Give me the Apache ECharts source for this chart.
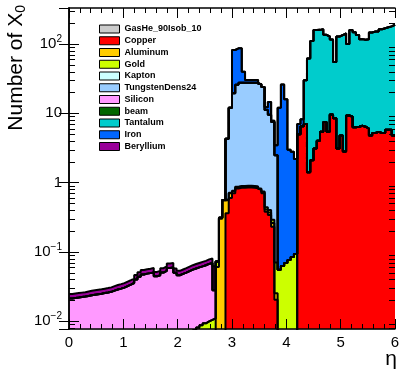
<!DOCTYPE html>
<html>
<head>
<meta charset="utf-8">
<script src="https://cdn.jsdelivr.net/npm/echarts@6/dist/echarts.min.js"></script>
<style>
  html, body { margin: 0; padding: 0; background: #fff; }
  #chart { width: 402px; height: 369px; }
</style>
</head>
<body>
<div id="chart"></div>
<script>
// histogram binning in eta
const etaMin = 0;
const etaMax = 6;
const nBins = 100;
const yMin = 0.0077;
const yMax = 331;

// number of X0 per bin, per material (bins before *Start are empty)
const gasHe = [
  0.0002, 0.0002, 0.0002, 0.0002, 0.0002, 0.0002, 0.0002, 0.0002, 0.0002, 0.0002,
  0.0002, 0.0002, 0.0002, 0.0002, 0.0002, 0.0002, 0.0002, 0.0002, 0.0002, 0.0002,
  0.0002, 0.0002, 0.0002, 0.0002, 0.0002, 0.0002, 0.0002, 0.0002, 0.0002, 0.0002,
  0.0002, 0.0002, 0.0002, 0.0002, 0.0002, 0.0002, 0.0002, 0.0002, 0.0002, 0.0002,
  0.0002, 0.0002, 0.0002, 0.0002, 0.0002, 0.0003, 0.0003, 0.0003, 0.0003, 0.0003,
  0.0003, 0.0003, 0.0003, 0.0003, 0.0003, 0.0003, 0.0003, 0.0003, 0.0003, 0.0003,
  0.0003, 0.0003, 0.0003, 0.0003, 0.0003, 0.0003, 0.0003, 0.0003, 0.0003, 0.0003,
  0.0003, 0.0003, 0.0003, 0.0003, 0.0003, 0.0003, 0.0003, 0.0003, 0.0003, 0.0003,
  0.0003, 0.0003, 0.0003, 0.0003, 0.0003, 0.0003, 0.0003, 0.0003, 0.0003, 0.0003,
  0.0003, 0.0003, 0.0003, 0.0003, 0.0003, 0.0003, 0.0003, 0.0003, 0.0003, 0.0003
];

const copperStart = 48;
const copper = [
  0.36, 0.6,
  0.70, 0.82, 0.84, 0.84, 0.85, 0.85, 0.84, 0.83, 0.78, 0.70,
  0.38, 0.34, 0.23, 0.02, 0, 0, 0, 0, 0, 0,
  5.0, 6.5, 7.0, 1.41, 2.1, 3.1, 4.0, 5.4, 7.5, 5.4,
  9.6, 8.5, 3.1, 4.8, 2.8, 9.3, 8.9, 6.3, 6.4, 6.6,
  6.4, 6.0, 4.8, 5.2, 5.4, 5.2, 5.2, 5.8, 5.8, 4.8
];

const aluminumStart = 45;
const aluminum = [
  0.06, 0.3, 0.55, 0.2, 0.1,
  0.05, 0.04, 0.04, 0.04, 0.04, 0.04, 0.04, 0.04, 0.03, 0.03,
  0.03, 0.03, 0.03, 0.005
];

const goldStart = 38;
const gold = [
  0.0072, 0.0079,
  0.0085, 0.0091, 0.0097, 0.0102, 0.0108, 0.012, 0.01, 0.01, 0.01, 0.01,
  0.01, 0.01, 0.01, 0.01, 0.01, 0.01, 0.01, 0.01, 0.01, 0.01,
  0.03, 0.03, 0.03, 0.045, 0.055, 0.062, 0.069, 0.076, 0.084, 0.093
];

const tungstenStart = 48;
const tungsten = [
  3.73, 11.3,
  18.7, 24.9, 26.7, 26.7, 26.7, 26.7, 26.7, 26.7, 25.2, 23.3,
  10.7, 9.1, 7.2, 2.4
];

const siliconStart = 0;
const silicon = [
  0.0210, 0.0214, 0.0217, 0.0221, 0.0224, 0.0229, 0.0234, 0.0239, 0.0243, 0.0247,
  0.0252, 0.0257, 0.0263, 0.0274, 0.0284, 0.0293, 0.0303, 0.0319, 0.0335, 0.0353,
  0.0397, 0.0435, 0.0470, 0.0483, 0.0491, 0.0504, 0.0441, 0.0457, 0.0500, 0.0530,
  0.0584, 0.0595, 0.0496, 0.0457, 0.0478, 0.0500, 0.0526, 0.0552, 0.0501, 0.0516,
  0.0531, 0.0547, 0.0572, 0.0588, 0.017
];

const tantalumStart = 72;
const tantalum = [
  23, 60.6, 108, 156, 156, 158, 128, 123,
  107, 46.5, 125, 130, 140, 91, 151, 141, 129, 111,
  109, 111, 142, 146, 146, 158, 164, 169, 174, 185
];

const ironStart = 50;
const iron = [
  62.5, 60.8, 59, 12.2, 2.6, 2.6, 2.6, 2.6, 0.5, 0,
  1.1, 5.0, 0.3, 1.0, 12, 25.9, 15.9, 2.9, 2.7, 2.1,
  2.0, 1.7
];

const berylliumStart = 0;
const beryllium = [
  0.0034, 0.0034, 0.0035, 0.0035, 0.0036, 0.0037, 0.0038, 0.0038, 0.0039, 0.0039,
  0.0040, 0.0041, 0.0042, 0.0044, 0.0046, 0.0047, 0.0049, 0.0051, 0.0054, 0.0057,
  0.0063, 0.0070, 0.0075, 0.0077, 0.0079, 0.0081, 0.0071, 0.0073, 0.0080, 0.0085,
  0.0094, 0.0095, 0.0079, 0.0073, 0.0077, 0.0080, 0.0084, 0.0088, 0.0092, 0.0095,
  0.0099, 0.0102, 0.0107, 0.0110, 0.034
];

const fontFamily = 'Liberation Sans, Arial, sans-serif';

// stack order, bottom first (same as legend order)
const layers = [
  { name: 'GasHe_90Isob_10', start: 0, values: gasHe, color: '#cccccc' },
  { name: 'Copper', start: copperStart, values: copper, color: '#ff0000' },
  { name: 'Aluminum', start: aluminumStart, values: aluminum, color: '#ffcc00' },
  { name: 'Gold', start: goldStart, values: gold, color: '#ccff00' },
  { name: 'Kapton', start: 0, values: null, color: '#ccffff' },
  { name: 'TungstenDens24', start: tungstenStart, values: tungsten, color: '#99ccff' },
  { name: 'Silicon', start: siliconStart, values: silicon, color: '#ff99ff' },
  { name: 'beam', start: 0, values: null, color: '#006600' },
  { name: 'Tantalum', start: tantalumStart, values: tantalum, color: '#00cccc' },
  { name: 'Iron', start: ironStart, values: iron, color: '#0066ff' },
  { name: 'Beryllium', start: berylliumStart, values: beryllium, color: '#990099' }
];

const binWidth = (etaMax - etaMin) / nBins;

function expand(start, values) {
  const out = [];
  for (let i = 0; i < nBins; i++) {
    const k = i - start;
    out.push(k >= 0 && k < values.length ? values[k] : 0);
  }
  return out;
}

// stack like THStack: each layer is drawn from the axis up to its cumulative sum
let running = new Array(nBins).fill(0);
const tops = layers.map((l) => {
  if (!l.values) return null;
  const b = expand(l.start, l.values);
  running = running.map((r, i) => r + b[i]);
  return running.slice();
});

function toSteps(values) {
  const pts = values.map((v, i) => [etaMin + i * binWidth, v]);
  pts.push([etaMax, values[nBins - 1]]);
  return pts;
}

const series = [];
// top of the stack first, so lower layers are painted over it
for (let idx = layers.length - 1; idx >= 0; idx--) {
  const l = layers[idx];
  if (!tops[idx]) {
    series.push({ name: l.name, type: 'line', data: [], color: l.color, symbol: 'none' });
    continue;
  }
  series.push({
    name: l.name,
    type: 'line',
    step: 'end',
    symbol: 'none',
    data: toSteps(tops[idx]),
    color: l.color,
    lineStyle: { color: '#000', width: 2 },
    areaStyle: { color: l.color, opacity: 1, origin: 'start' },
    emphasis: { disabled: true },
    clip: true
  });
}

const axisLine = { show: true, lineStyle: { color: '#000', width: 1.5 } };

function xAxis(position, showLabel) {
  return {
    type: 'value',
    position: position,
    min: etaMin,
    max: etaMax,
    interval: 1,
    z: 50,
    axisLine: axisLine,
    axisTick: { show: true, inside: true, length: 10, lineStyle: { color: '#000', width: 1 } },
    minorTick: { show: true, splitNumber: 5, length: 5, lineStyle: { color: '#000', width: 1 } },
    axisLabel: { show: showLabel, color: '#000', fontSize: 15, fontFamily: fontFamily, margin: 6 },
    splitLine: { show: false }
  };
}

function yAxis(position, showLabel) {
  return {
    type: 'log',
    logBase: 10,
    position: position,
    min: yMin,
    max: yMax,
    z: 50,
    axisLine: axisLine,
    axisTick: { show: true, inside: true, length: 10, lineStyle: { color: '#000', width: 1 } },
    splitLine: { show: false },
    axisLabel: {
      show: showLabel,
      showMinLabel: false,
      showMaxLabel: false,
      color: '#000',
      fontSize: 15,
      fontFamily: fontFamily,
      margin: 7,
      formatter: (v) => {
        const lg = Math.log10(v);
        const p = Math.round(lg);
        if (Math.abs(lg - p) > 1e-6) return '';
        if (p === 0) return '1';
        if (p === 1) return '10';
        return '{b|10}{p|' + (p < 0 ? '\u2212' : '') + Math.abs(p) + '}';
      },
      rich: {
        b: { fontSize: 15, fontFamily: fontFamily, color: '#000', lineHeight: 20 },
        p: { fontSize: 10, fontFamily: fontFamily, color: '#000', lineHeight: 10, verticalAlign: 'top' }
      }
    }
  };
}

const chart = echarts.init(document.getElementById('chart'), null, { renderer: 'canvas' });

chart.setOption({
  animation: false,
  backgroundColor: '#fff',
  grid: { left: 69, right: 7, top: 8, bottom: 40, containLabel: false, outerBoundsMode: 'none' },
  legend: {
    orient: 'vertical',
    left: 99,
    top: 24,
    z: 100,
    padding: 0,
    icon: 'rect',
    itemWidth: 20,
    itemHeight: 8,
    itemGap: 1.75,
    selectedMode: false,
    data: layers.map((l) => ({
      name: l.name,
      itemStyle: { color: l.color, borderColor: '#000', borderWidth: 1 }
    })),
    textStyle: { fontSize: 9, fontWeight: 'bold', fontFamily: fontFamily, color: '#000', lineHeight: 10 }
  },
  xAxis: [xAxis('bottom', true), xAxis('top', false)],
  yAxis: [yAxis('left', true), yAxis('right', false)],
  series: series
});

// minor log ticks 2..9 in each decade, placed through the y axis scale
const minorTickEls = [];
const xl = chart.convertToPixel({ xAxisIndex: 0 }, etaMin);
const xr = chart.convertToPixel({ xAxisIndex: 0 }, etaMax);
for (let p = -3; p <= 2; p++) {
  for (let m = 2; m <= 9; m++) {
    const v = m * Math.pow(10, p);
    if (v <= yMin || v >= yMax) continue;
    const y = Math.round(chart.convertToPixel({ yAxisIndex: 0 }, v)) + 0.5;
    minorTickEls.push(
      { type: 'line', z: 60, silent: true, shape: { x1: xl, y1: y, x2: xl + 6, y2: y }, style: { stroke: '#000', lineWidth: 1 } },
      { type: 'line', z: 60, silent: true, shape: { x1: xr - 6, y1: y, x2: xr, y2: y }, style: { stroke: '#000', lineWidth: 1 } }
    );
  }
}

chart.setOption({
  graphic: minorTickEls.concat([
    {
      type: 'text',
      x: 28,
      y: 5,
      rotation: Math.PI / 2,
      style: {
        text: '{a|Number of X}{s|0}',
        align: 'right',
        verticalAlign: 'bottom',
        rich: {
          a: { fontSize: 21, fontFamily: fontFamily, fill: '#000', lineHeight: 24 },
          s: { fontSize: 14, fontFamily: fontFamily, fill: '#000', lineHeight: 10, verticalAlign: 'bottom' }
        }
      }
    },
    {
      type: 'text',
      x: 397,
      y: 359,
      style: {
        text: '\u03b7',
        fontSize: 21,
        fontFamily: fontFamily,
        fill: '#000',
        align: 'right',
        verticalAlign: 'middle'
      }
    }
  ])
});
</script>
</body>
</html>
